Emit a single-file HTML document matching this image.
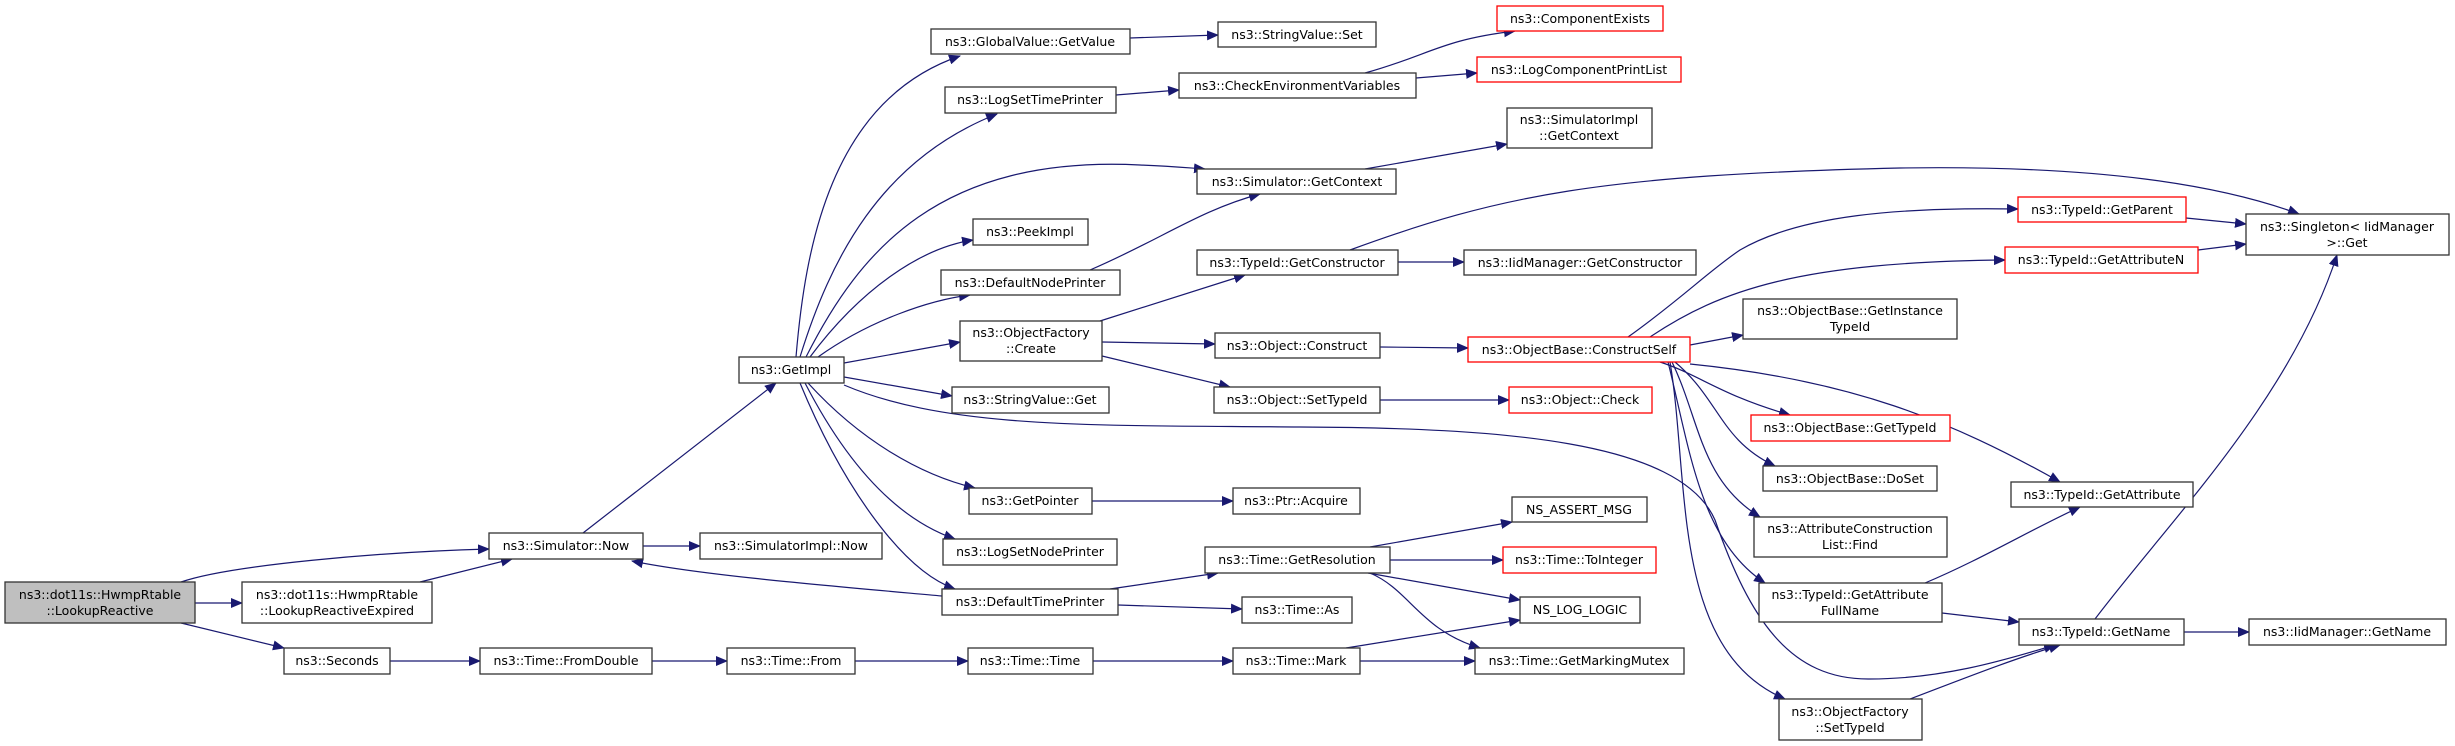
<!DOCTYPE html>
<html><head><meta charset="utf-8"><style>
html,body{margin:0;padding:0;background:#fff}
svg{display:block}
text{font-family:"DejaVu Sans","Liberation Sans",sans-serif;font-size:12.5px;fill:#000;text-anchor:middle}
.n{fill:#fff;stroke:#333;stroke-width:1.3}
.r{fill:#fff;stroke:#ff0000;stroke-width:1.3}
.g{fill:#bfbfbf;stroke:#333;stroke-width:1.3}
path{fill:none;stroke:#191970;stroke-width:1.2}
</style></head><body>
<svg width="2455" height="746" viewBox="0 0 2455 746" xmlns="http://www.w3.org/2000/svg">
<defs><marker id="a" markerUnits="userSpaceOnUse" markerWidth="12" markerHeight="10" refX="11" refY="5" orient="auto"><polygon points="0,0 12,5 0,10" fill="#191970"/></marker></defs>
<g marker-end="url(#a)">
<path d="M181,582 C230,565 380,552 489,549"/>
<path d="M195,603 L242,603"/>
<path d="M181,623 L284,648"/>
<path d="M420,582 L512,559"/>
<path d="M643,546 L700,546"/>
<path d="M583,533 L776,383"/>
<path d="M942,596 C820,585 700,575 632,561"/>
<path d="M390,661 L480,661"/>
<path d="M652,661 L727,661"/>
<path d="M855,661 L968,661"/>
<path d="M1093,661 L1233,661"/>
<path d="M1360,661 L1475,661"/>
<path d="M1346,648 L1520,620"/>
<path d="M1370,573 C1410,590 1420,630 1480,648"/>
<path d="M1368,573 L1520,600"/>
<path d="M1370,547 L1512,522"/>
<path d="M1390,560 L1503,560"/>
<path d="M1110,589 L1218,573"/>
<path d="M1118,605 L1242,609"/>
<path d="M1092,501 L1233,501"/>
<path d="M796,357 C805,250 830,100 960,56"/>
<path d="M800,357 C830,260 880,160 997,114"/>
<path d="M806,357 C860,250 940,155 1140,165 C1170,166 1190,168 1205,169"/>
<path d="M810,357 C860,290 920,248 973,240"/>
<path d="M818,357 C870,320 930,300 970,295"/>
<path d="M844,363 L960,342"/>
<path d="M844,377 L952,396"/>
<path d="M808,383 C860,440 920,475 975,488"/>
<path d="M805,383 C850,470 900,520 955,539"/>
<path d="M800,383 C840,480 900,570 955,589"/>
<path d="M844,385 C950,430 1100,425 1300,427 C1500,428 1680,440 1715,520 C1750,620 1790,680 1870,679 C1950,679 2020,655 2055,645"/>
<path d="M1628,337 C1680,300 1710,270 1740,250 C1800,215 1900,207 2018,209"/>
<path d="M1650,337 C1720,290 1800,262 2005,260"/>
<path d="M1690,345 L1743,335"/>
<path d="M1660,362 C1700,375 1720,395 1790,415"/>
<path d="M1675,362 C1720,400 1720,440 1775,466"/>
<path d="M1672,362 C1700,420 1700,480 1760,517"/>
<path d="M1668,362 C1690,450 1700,540 1765,583"/>
<path d="M1670,362 C1690,480 1670,650 1785,699"/>
<path d="M1690,364 C1850,380 1950,420 2060,482"/>
<path d="M1350,250 C1500,195 1600,175 1900,168 C2100,165 2220,185 2299,214"/>
<path d="M1398,262 L1464,262"/>
<path d="M1365,169 L1507,144"/>
<path d="M1365,73 C1430,55 1440,40 1515,31"/>
<path d="M1416,78 L1477,73"/>
<path d="M1130,38 L1218,35"/>
<path d="M1116,95 L1179,90"/>
<path d="M1090,270 C1160,240 1200,210 1260,194"/>
<path d="M1100,321 L1245,275"/>
<path d="M1102,342 L1215,344"/>
<path d="M1102,356 L1230,387"/>
<path d="M1380,347 L1468,348"/>
<path d="M1380,400 L1509,400"/>
<path d="M2186,218 L2246,224"/>
<path d="M2198,250 L2246,244"/>
<path d="M2095,619 C2170,520 2290,400 2337,255"/>
<path d="M2184,632 L2249,632"/>
<path d="M1925,583 C1980,560 2030,530 2080,507"/>
<path d="M1942,613 L2019,622"/>
<path d="M1910,699 C1960,680 2010,660 2060,645"/>
</g>
<g>
<rect class="g" x="5" y="582" width="190" height="41"/><text x="100" y="599">ns3::dot11s::HwmpRtable</text><text x="100" y="615">::LookupReactive</text>
<rect class="n" x="242" y="582" width="190" height="41"/><text x="337" y="599">ns3::dot11s::HwmpRtable</text><text x="337" y="615">::LookupReactiveExpired</text>
<rect class="n" x="489" y="533" width="154" height="26"/><text x="566" y="550">ns3::Simulator::Now</text>
<rect class="n" x="700" y="533" width="182" height="26"/><text x="791" y="550">ns3::SimulatorImpl::Now</text>
<rect class="n" x="284" y="648" width="106" height="26"/><text x="337" y="665">ns3::Seconds</text>
<rect class="n" x="480" y="648" width="172" height="26"/><text x="566" y="665">ns3::Time::FromDouble</text>
<rect class="n" x="727" y="648" width="128" height="26"/><text x="791" y="665">ns3::Time::From</text>
<rect class="n" x="739" y="357" width="105" height="26"/><text x="791" y="374">ns3::GetImpl</text>
<rect class="n" x="931" y="29" width="199" height="25"/><text x="1030" y="46">ns3::GlobalValue::GetValue</text>
<rect class="n" x="1218" y="22" width="158" height="25"/><text x="1297" y="39">ns3::StringValue::Set</text>
<rect class="r" x="1497" y="6" width="166" height="25"/><text x="1580" y="23">ns3::ComponentExists</text>
<rect class="r" x="1477" y="57" width="204" height="25"/><text x="1579" y="74">ns3::LogComponentPrintList</text>
<rect class="n" x="1179" y="73" width="237" height="25"/><text x="1297" y="90">ns3::CheckEnvironmentVariables</text>
<rect class="n" x="945" y="87" width="171" height="26"/><text x="1030" y="104">ns3::LogSetTimePrinter</text>
<rect class="n" x="1507" y="108" width="145" height="40"/><text x="1579" y="124">ns3::SimulatorImpl</text><text x="1579" y="140">::GetContext</text>
<rect class="n" x="1197" y="169" width="199" height="25"/><text x="1297" y="186">ns3::Simulator::GetContext</text>
<rect class="n" x="973" y="219" width="115" height="26"/><text x="1030" y="236">ns3::PeekImpl</text>
<rect class="n" x="941" y="270" width="179" height="25"/><text x="1030" y="287">ns3::DefaultNodePrinter</text>
<rect class="n" x="1197" y="250" width="201" height="25"/><text x="1297" y="267">ns3::TypeId::GetConstructor</text>
<rect class="n" x="1464" y="250" width="232" height="25"/><text x="1580" y="267">ns3::IidManager::GetConstructor</text>
<rect class="n" x="960" y="321" width="142" height="40"/><text x="1031" y="337">ns3::ObjectFactory</text><text x="1031" y="353">::Create</text>
<rect class="n" x="1215" y="333" width="165" height="25"/><text x="1297" y="350">ns3::Object::Construct</text>
<rect class="r" x="1468" y="337" width="222" height="25"/><text x="1579" y="354">ns3::ObjectBase::ConstructSelf</text>
<rect class="n" x="952" y="387" width="157" height="26"/><text x="1030" y="404">ns3::StringValue::Get</text>
<rect class="n" x="1214" y="387" width="166" height="26"/><text x="1297" y="404">ns3::Object::SetTypeId</text>
<rect class="r" x="1509" y="387" width="143" height="26"/><text x="1580" y="404">ns3::Object::Check</text>
<rect class="r" x="2018" y="197" width="168" height="25"/><text x="2102" y="214">ns3::TypeId::GetParent</text>
<rect class="r" x="2005" y="247" width="193" height="26"/><text x="2101" y="264">ns3::TypeId::GetAttributeN</text>
<rect class="n" x="2246" y="214" width="203" height="41"/><text x="2347" y="231">ns3::Singleton&lt; IidManager</text><text x="2347" y="247">&gt;::Get</text>
<rect class="n" x="1743" y="299" width="214" height="40"/><text x="1850" y="315">ns3::ObjectBase::GetInstance</text><text x="1850" y="331">TypeId</text>
<rect class="r" x="1751" y="415" width="199" height="26"/><text x="1850" y="432">ns3::ObjectBase::GetTypeId</text>
<rect class="n" x="1763" y="466" width="174" height="25"/><text x="1850" y="483">ns3::ObjectBase::DoSet</text>
<rect class="n" x="2011" y="482" width="182" height="25"/><text x="2102" y="499">ns3::TypeId::GetAttribute</text>
<rect class="n" x="1754" y="517" width="193" height="40"/><text x="1850" y="533">ns3::AttributeConstruction</text><text x="1850" y="549">List::Find</text>
<rect class="n" x="1759" y="583" width="183" height="39"/><text x="1850" y="599">ns3::TypeId::GetAttribute</text><text x="1850" y="615">FullName</text>
<rect class="n" x="2019" y="619" width="165" height="26"/><text x="2101" y="636">ns3::TypeId::GetName</text>
<rect class="n" x="2249" y="619" width="197" height="26"/><text x="2347" y="636">ns3::IidManager::GetName</text>
<rect class="n" x="1779" y="699" width="143" height="41"/><text x="1850" y="716">ns3::ObjectFactory</text><text x="1850" y="732">::SetTypeId</text>
<rect class="n" x="969" y="488" width="123" height="26"/><text x="1030" y="505">ns3::GetPointer</text>
<rect class="n" x="1233" y="488" width="127" height="26"/><text x="1296" y="505">ns3::Ptr::Acquire</text>
<rect class="n" x="943" y="539" width="174" height="26"/><text x="1030" y="556">ns3::LogSetNodePrinter</text>
<rect class="n" x="1512" y="497" width="135" height="25"/><text x="1579" y="514">NS_ASSERT_MSG</text>
<rect class="n" x="1205" y="547" width="185" height="26"/><text x="1297" y="564">ns3::Time::GetResolution</text>
<rect class="r" x="1503" y="547" width="153" height="26"/><text x="1579" y="564">ns3::Time::ToInteger</text>
<rect class="n" x="942" y="589" width="176" height="26"/><text x="1030" y="606">ns3::DefaultTimePrinter</text>
<rect class="n" x="1242" y="597" width="110" height="26"/><text x="1297" y="614">ns3::Time::As</text>
<rect class="n" x="1520" y="597" width="120" height="26"/><text x="1580" y="614">NS_LOG_LOGIC</text>
<rect class="n" x="968" y="648" width="125" height="26"/><text x="1030" y="665">ns3::Time::Time</text>
<rect class="n" x="1233" y="648" width="127" height="26"/><text x="1296" y="665">ns3::Time::Mark</text>
<rect class="n" x="1475" y="648" width="209" height="26"/><text x="1579" y="665">ns3::Time::GetMarkingMutex</text>
</g>
</svg>
</body></html>
